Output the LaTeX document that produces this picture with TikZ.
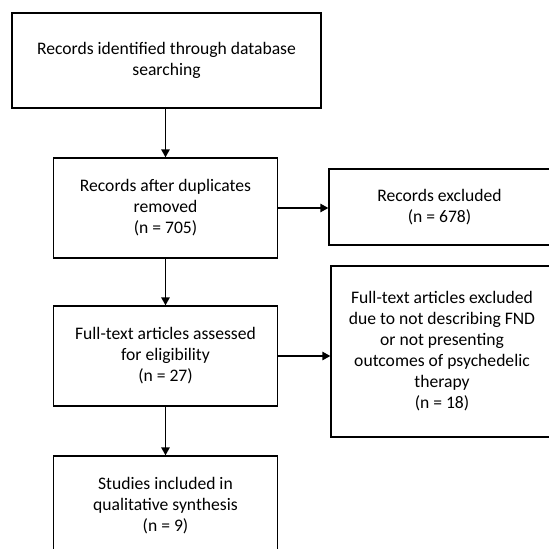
\documentclass[tikz,border=0pt]{standalone}
\usepackage{fontspec}
\setmainfont{Carlito}
\usetikzlibrary{arrows.meta}
\begin{document}
\begin{tikzpicture}[x=1pt,y=-1pt,line width=1.4pt,>={Triangle[length=8pt,width=8.5pt]},
    flowbox/.style={draw,align=center,inner sep=0pt,font=\fontsize{17.6}{21}\selectfont}]
    \useasboundingbox(0,0)rectangle(549,549);
    \node[flowbox,minimum width=309pt,minimum height=95pt](ident)at(166.5,60.5){Records identified through database\\searching};
    \node[flowbox,minimum width=224pt,minimum height=100pt](dup)at(165.5,208){Records after duplicates\\removed\\(n = 705)};
    \node[flowbox,minimum width=221pt,minimum height=76pt](excl)at(439.5,207){Records excluded\\(n = 678)};
    \node[flowbox,minimum width=224pt,minimum height=100pt](elig)at(165.5,356){Full-text articles assessed\\for eligibility\\(n = 27)};
    \node[flowbox,minimum width=222pt,minimum height=171pt](ftex)at(442,351.5){Full-text articles excluded\\due to not describing FND\\or not presenting\\outcomes of psychedelic\\therapy\\(n = 18)};
    \node[flowbox,minimum width=224pt,minimum height=100pt](incl)at(165.5,506){Studies included in\\qualitative synthesis\\(n = 9)};
    \draw[->](ident.south-|dup.north)--(dup.north);
    \draw[->](dup.east)--(dup.east-|excl.west);
    \draw[->](dup.south)--(elig.north);
    \draw[->](elig.east)--(elig.east-|ftex.west);
    \draw[->](elig.south)--(incl.north);
\end{tikzpicture}
\end{document}
